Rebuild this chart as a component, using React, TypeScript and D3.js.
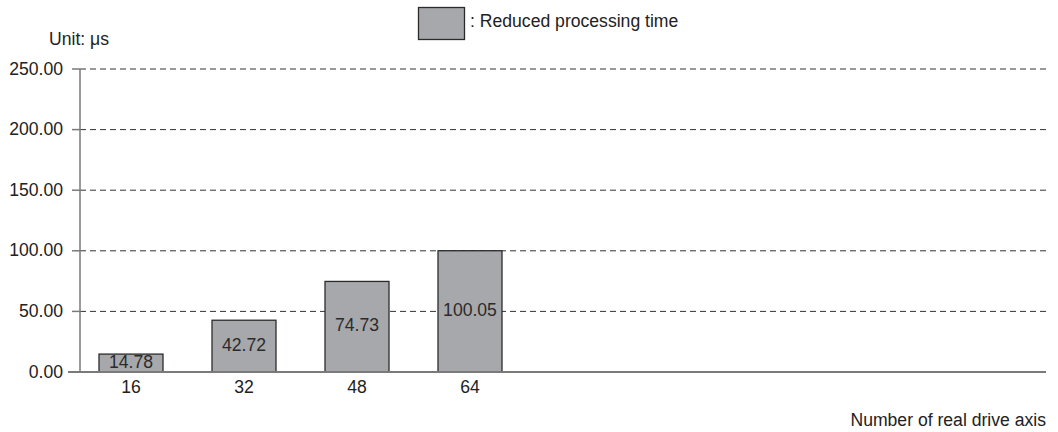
import React from "react";
import * as d3 from "d3";

const categories = [16, 32, 48, 64];
const values = [14.78, 42.72, 74.73, 100.05];
const yTicks = [0, 50, 100, 150, 200, 250];
const legendLabel = ": Reduced processing time";
const unitLabel = "Unit: μs";
const xTitle = "Number of real drive axis";

const W = 1058;
const H = 432;
const FONT = "'Liberation Sans', Arial, sans-serif";
const FS = 17.6;

export default function App() {
  const left = 80;
  const right = 1046;
  const y = d3.scaleLinear().domain([0, 250]).range([372, 69]);
  const x = d3.scaleLinear().domain([0, 64]).range([18, 470]);
  const barW = 64;

  return (
    <div style={{ position: "absolute", left: 0, top: 0 }}>
      <svg width={W} height={H} style={{ display: "block", fontFamily: FONT }}>
        <rect width={W} height={H} fill="#fff" />
        {yTicks.filter((t) => t > 0).map((t) => (
          <line key={"g" + t} x1={left} x2={right} y1={y(t)} y2={y(t)} stroke="#333" strokeWidth={1} strokeDasharray="6,4" />
        ))}
        {categories.map((c, i) => (
          <rect
            key={"b" + c}
            x={x(c) - barW / 2}
            y={y(values[i])}
            width={barW}
            height={y(0) - y(values[i])}
            fill="#a7a8ab"
            stroke="#2b2b2b"
            strokeWidth={1.3}
          />
        ))}
        {categories.map((c, i) => (
          <text
            key={"v" + c}
            x={x(c)}
            y={(y(values[i]) + y(0)) / 2}
            textAnchor="middle"
            dominantBaseline="middle"
            fontSize={FS}
            fill="#2b2b2b"
          >
            {values[i].toFixed(2)}
          </text>
        ))}
        <line x1={left} x2={left} y1={y(250)} y2={y(0)} stroke="#7a7a7a" strokeWidth={1.5} />
        {yTicks.map((t) => (
          <g key={"t" + t}>
            <line x1={72} x2={left} y1={y(t)} y2={y(t)} stroke="#7a7a7a" strokeWidth={1.5} />
            <text x={63} y={y(t) + 1} textAnchor="end" dominantBaseline="middle" fontSize={FS} fill="#222">
              {t.toFixed(2)}
            </text>
          </g>
        ))}
        <line x1={68} x2={right} y1={y(0)} y2={y(0)} stroke="#7a7a7a" strokeWidth={2} />
        {categories.map((c) => (
          <text key={"x" + c} x={x(c)} y={388} textAnchor="middle" dominantBaseline="middle" fontSize={FS} fill="#222">
            {c}
          </text>
        ))}
        <text x={right} y={421} textAnchor="end" dominantBaseline="middle" fontSize={FS} fill="#222">
          {xTitle}
        </text>
        <text x={49} y={40} dominantBaseline="middle" fontSize={FS} fill="#222">
          {unitLabel}
        </text>
        <rect x={418.5} y={7.5} width={46} height={32} fill="#a7a8ab" stroke="#2b2b2b" strokeWidth={1.3} />
        <text x={470} y={22} dominantBaseline="middle" fontSize={FS} fill="#222">
          {legendLabel}
        </text>
      </svg>
    </div>
  );
}
